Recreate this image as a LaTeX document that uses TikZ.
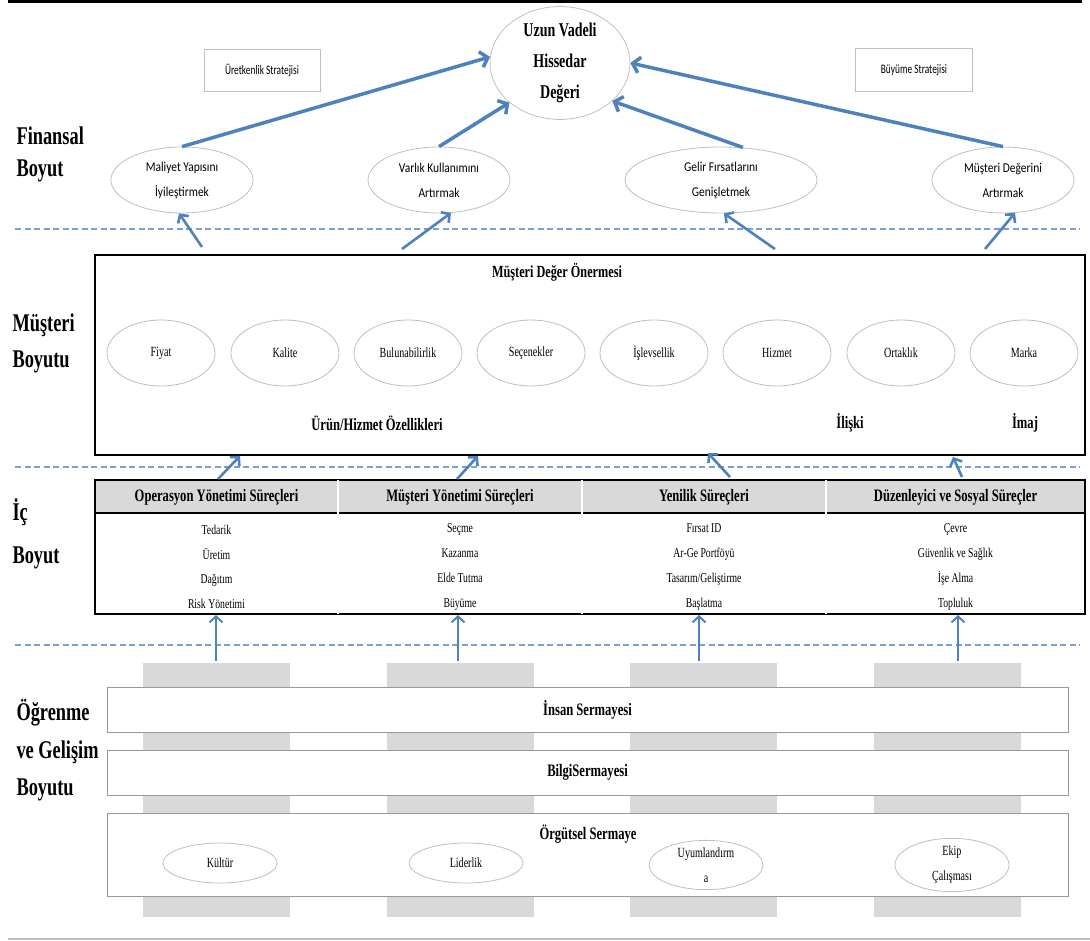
\documentclass[tikz,border=0pt]{standalone}
\usepackage{fontspec}
\usepackage[]{tikz}
\usetikzlibrary{positioning,arrows.meta,shapes.geometric}
\newfontfamily\trfont[FakeStretch=0.72]{Liberation Serif}
\newfontfamily\cbfont[FakeStretch=0.85]{Carlito}
\newfontfamily\cbdar[FakeStretch=0.72]{Carlito}
\definecolor{okmavi}{RGB}{79,129,189}
\definecolor{cizgi}{RGB}{191,191,191}
\definecolor{dolgu}{RGB}{217,217,217}
\tikzset{elips/.style={ellipse,draw=cizgi,line width=0.8pt,inner sep=0pt,align=center}}
\tikzset{kutu/.style={draw=cizgi,line width=0.8pt,inner sep=0pt}}
\tikzset{kalinok/.style={line width=3.5pt,okmavi,-{Straight Barb[length=7pt,width=16pt]}}}
\tikzset{inceok/.style={line width=2.6pt,okmavi,-{Straight Barb[length=6pt,width=13pt]}}}
\tikzset{sinir/.style={okmavi!75,line width=1.6pt,dash pattern=on 6pt off 3.5pt}}
\tikzset{boyut/.style={anchor=base west,font=\trfont\bfseries\fontsize{25.5}{30}\selectfont}}
\tikzset{kucuk/.style={font=\cbfont\fontsize{13.5}{25}\selectfont,align=center}}
\tikzset{ozellik/.style={font=\trfont\fontsize{14}{15}\selectfont}}
\tikzset{kalinyazi/.style={font=\trfont\bfseries\fontsize{17.5}{19}\selectfont}}
\tikzset{liste/.style={font=\trfont\fontsize{13.5}{24.7}\selectfont,align=center}}

\begin{document}
\begin{tikzpicture}[x=1pt,y=-1pt]
\useasboundingbox (0,0) rectangle (1090,941);
\draw[line width=2.5pt] (8,1.5)--(1082,1.5);
\draw[cizgi,line width=1.5pt] (8,939)--(1090,939);
% 左侧标签
\node[boyut] (f1) at (13,145) {Finansal};
\node[boyut] (f2) at (13,177) {Boyut};
\node[boyut] (m1) at (9,332) {Müşteri};
\node[boyut] (m2) at (9,367) {Boyutu};
\node[boyut] (i1) at (9,520) {İç};
\node[boyut] (i2) at (9,563) {Boyut};
\node[boyut] (o1) at (13,720) {Öğrenme};
\node[boyut] (o2) at (13,758) {ve Gelişim};
\node[boyut] (o3) at (13,795) {Boyutu};
% 财务
\node[elips,minimum width=140pt,minimum height=98pt,font=\trfont\bfseries\fontsize{19.5}{31}\selectfont] (deger) at (560,63) {Uzun Vadeli\\Hissedar\\Değeri};
\node[kutu,minimum width=116pt,minimum height=42pt,font=\cbdar\fontsize{13}{14}\selectfont] (uret) at (262,70) {Üretkenlik Stratejisi};
\node[kutu,minimum width=117pt,minimum height=43pt,font=\cbdar\fontsize{13}{14}\selectfont] (buyu) at (914,70) {Büyüme Stratejisi};
\node[elips,kucuk,minimum width=142pt,minimum height=66pt] (maliyet) at (182,180) {Maliyet Yapısını\\İyileştirmek};
\node[elips,kucuk,minimum width=142pt,minimum height=66pt] (varlik) at (439,180) {Varlık Kullanımını\\Artırmak};
\node[elips,kucuk,minimum width=192pt,minimum height=66pt] (gelir) at (721,180) {Gelir Fırsatlarını\\Genişletmek};
\node[elips,kucuk,minimum width=142pt,minimum height=66pt] (mdeger) at (1003,180) {Müşteri Değerini\\Artırmak};
\draw[kalinok] (maliyet.north)--(deger.175);
\draw[kalinok] (varlik.north)--(deger.218);
\draw[kalinok] (gelir.56)--(deger.-36);
\draw[kalinok] (mdeger.north)--(deger.0);
\draw[sinir] (15,229)--(1080,229);
% 顾客
\node[draw,line width=1.6pt,minimum width=990pt,minimum height=200pt] (musteri) at (590,355) {};
\node[kalinyazi,font=\trfont\bfseries\fontsize{17}{19}\selectfont] (oner) at (557,272) {Müşteri Değer Önermesi};
\node[elips,ozellik,minimum width=108pt,minimum height=66pt] (fiyat) at (161,353) {Fiyat};
\node[elips,ozellik,minimum width=108pt,minimum height=66pt] (kalite) at (285,353) {Kalite};
\node[elips,ozellik,minimum width=108pt,minimum height=66pt] (bulun) at (408,353) {Bulunabilirlik};
\node[elips,ozellik,minimum width=108pt,minimum height=66pt] (secen) at (531,353) {Seçenekler};
\node[elips,ozellik,minimum width=108pt,minimum height=66pt] (islev) at (654,353) {İşlevsellik};
\node[elips,ozellik,minimum width=108pt,minimum height=66pt] (hizmet) at (777,353) {Hizmet};
\node[elips,ozellik,minimum width=108pt,minimum height=66pt] (ortak) at (901,353) {Ortaklık};
\node[elips,ozellik,minimum width=108pt,minimum height=66pt] (marka) at (1024,353) {Marka};
\node[kalinyazi] (urun) at (377,423) {Ürün/Hizmet Özellikleri};
\node[kalinyazi] (iliski) at (850,423) {İlişki};
\node[kalinyazi] (imaj) at (1025,423) {İmaj};
\coordinate (u1) at (202,247);
\coordinate (u2) at (402,249);
\coordinate (u3) at (775,249);
\coordinate (u4) at (985,249);
\draw[inceok] (u1)--(maliyet.-95);
\draw[inceok] (u2)--(varlik.-70);
\draw[inceok] (u3)--(gelir.-85);
\draw[inceok] (u4)--(mdeger.-70);
\draw[sinir] (15,467)--(1080,467);
% 内部流程
\fill[dolgu] (95,480) rectangle (1085,513);
\node[kalinyazi] (op) at (216.5,497) {Operasyon Yönetimi Süreçleri};
\node[kalinyazi] (my) at (460,497) {Müşteri Yönetimi Süreçleri};
\node[kalinyazi] (ye) at (704,497) {Yenilik Süreçleri};
\node[kalinyazi] (du) at (955.5,497) {Düzenleyici ve Sosyal Süreçler};
\node[liste] (op1) at (216.5,567) {Tedarik\\Üretim\\Dağıtım\\Risk Yönetimi};
\node[liste] (my1) at (460,567) {Seçme\\Kazanma\\Elde Tutma\\Büyüme};
\node[liste] (ye1) at (704,567) {Fırsat ID\\Ar-Ge Portföyü\\Tasarım/Geliştirme\\Başlatma};
\node[liste] (du1) at (955.5,567) {Çevre\\Güvenlik ve Sağlık\\İşe Alma\\Topluluk};
\draw[line width=1.6pt] (95,480) rectangle (1085,614);
\draw[line width=1.2pt] (95,513)--(1085,513);
\draw[double,double distance=1.2pt,line width=0.8pt] (338,480)--(338,614) (582,480)--(582,614) (826,480)--(826,614);
\coordinate (t1) at (218,479);
\coordinate (t2) at (457,479);
\coordinate (t3) at (730,477);
\coordinate (t4) at (962,477);
\coordinate (h1) at (240,456);
\coordinate (h2) at (478,456);
\coordinate (h3) at (708,453);
\coordinate (h4) at (953,457);
\draw[inceok] (t1)--(h1);
\draw[inceok] (t2)--(h2);
\draw[inceok] (t3)--(h3);
\draw[inceok] (t4)--(h4);
\draw[sinir] (15,645)--(1080,645);
% 学习与成长
\node[fill=dolgu,minimum width=147pt,minimum height=254pt,inner sep=0pt] (p1) at (216,790) {};
\node[fill=dolgu,minimum width=147pt,minimum height=254pt,inner sep=0pt] (p2) at (460,790) {};
\node[fill=dolgu,minimum width=147pt,minimum height=254pt,inner sep=0pt] (p3) at (703.5,790) {};
\node[fill=dolgu,minimum width=147pt,minimum height=254pt,inner sep=0pt] (p4) at (947,790) {};
\node[kutu,draw=cizgi!80!black,fill=white,minimum width=961pt,minimum height=45pt,kalinyazi] (insan) at (587.5,709.5) {İnsan Sermayesi};
\node[kutu,draw=cizgi!80!black,fill=white,minimum width=961pt,minimum height=45pt,kalinyazi] (bilgi) at (587.5,772.5) {BilgiSermayesi};
\node[kutu,draw=cizgi!80!black,fill=white,minimum width=961pt,minimum height=83pt] (orgut) at (587.5,854.5) {};
\node[kalinyazi] (orgyazi) at (588,834) {Örgütsel Sermaye};
\node[elips,ozellik,minimum width=114pt,minimum height=40pt] (kultur) at (220,863) {Kültür};
\node[elips,ozellik,minimum width=114pt,minimum height=40pt] (lider) at (466,863) {Liderlik};
\node[elips,ozellik,minimum width=114pt,minimum height=40pt,font=\trfont\fontsize{14}{25}\selectfont] (uyum) at (706,865) {Uyumlandırm\\a};
\node[elips,ozellik,minimum width=114pt,minimum height=40pt,font=\trfont\fontsize{14}{25}\selectfont] (ekip) at (952,865) {Ekip\\Çalışması};
\coordinate (a1) at (216,661);
\coordinate (a2) at (458,661);
\coordinate (a3) at (699,661);
\coordinate (a4) at (958,661);
\coordinate (b1) at (216,615);
\coordinate (b2) at (458,615);
\coordinate (b3) at (699,615);
\coordinate (b4) at (958,615);
\draw[inceok,line width=2pt] (a1)--(b1);
\draw[inceok,line width=2pt] (a2)--(b2);
\draw[inceok,line width=2pt] (a3)--(b3);
\draw[inceok,line width=2pt] (a4)--(b4);
\end{tikzpicture}
\end{document}
